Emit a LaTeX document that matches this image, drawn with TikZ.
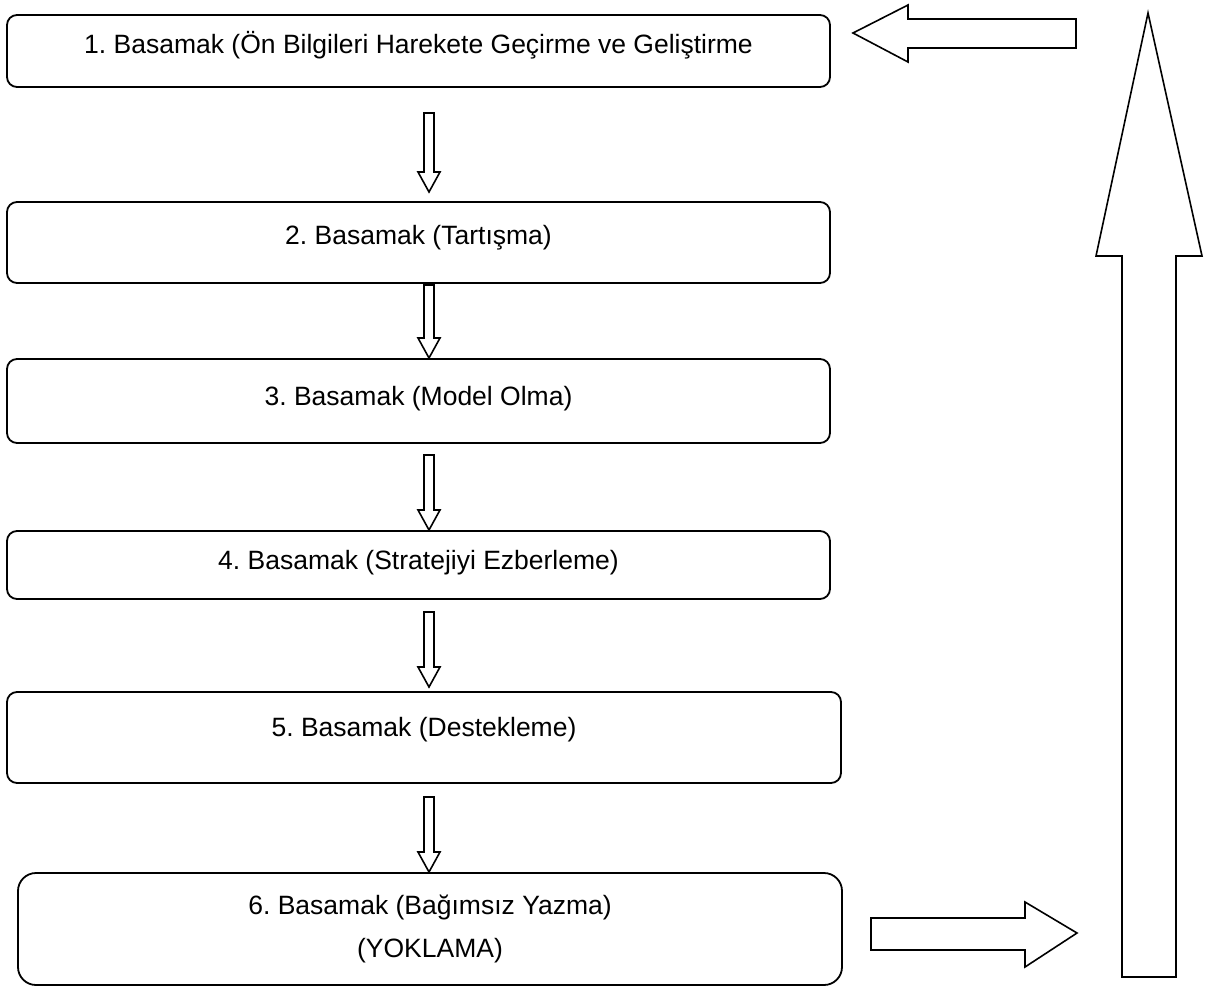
\documentclass[tikz,border=0pt]{standalone}
\usepackage{fontspec}
\setmainfont{Liberation Sans}
\begin{document}
\frenchspacing
\begin{tikzpicture}[x=1pt,y=-1pt,
  stepbox/.style={draw, rounded corners=10pt, inner sep=0pt, line width=1.8pt},
  lbl/.style={font=\fontsize{26.5}{31}\selectfont, inner sep=0pt, anchor=center},
  hollow/.style={draw, line width=1.6pt, fill=white, line join=miter}]
\useasboundingbox (0,0) rectangle (1209,988);
% boxes
\node[stepbox, minimum width=823pt, minimum height=72pt] (b1) at (418.5,51) {};
\node[stepbox, minimum width=823pt, minimum height=81pt] (b2) at (418.5,242.5) {};
\node[stepbox, minimum width=823pt, minimum height=84pt] (b3) at (418.5,401) {};
\node[stepbox, minimum width=823pt, minimum height=68pt] (b4) at (418.5,565) {};
\node[stepbox, minimum width=834pt, minimum height=91pt] (b5) at (424,737.5) {};
\node[stepbox, rounded corners=18pt, minimum width=824pt, minimum height=112pt] (b6) at (430,929) {};
% labels
\node[lbl] (t1) at (418.5,45) {1. Basamak (Ön Bilgileri Harekete Geçirme ve Geliştirme};
\node[lbl] (t2) at (418.5,238) {2. Basamak (Tartışma)};
\node[lbl] (t3) at (418.5,399) {3. Basamak (Model Olma)};
\node[lbl] (t4) at (418.5,563) {4. Basamak (Stratejiyi Ezberleme)};
\node[lbl] (t5) at (424,730) {5. Basamak (Destekleme)};
\node[lbl] (t6) at (430,907) {6. Basamak (Bağımsız Yazma)};
\node[lbl] (t7) at (430,951) {(YOKLAMA)};
% small down arrows between boxes
\newcommand{\dnarrow}[2]{\draw[hollow] (424,#1) -- (434,#1) -- (434,#2-20) -- (440,#2-20) -- (429,#2) -- (418,#2-20) -- (424,#2-20) -- cycle;}
\dnarrow{113}{192}
\dnarrow{285}{358}
\dnarrow{455}{530}
\dnarrow{612}{687}
\dnarrow{797}{872}
% top-left arrow
\draw[hollow] (1076,19) -- (908,19) -- (908,5) -- (853,33) -- (908,62) -- (908,48) -- (1076,48) -- cycle;
% big up arrow
\draw[hollow] (1122,977) -- (1122,256) -- (1096,256) -- (1148,13) -- (1202,256) -- (1176,256) -- (1176,977) -- cycle;
% bottom right arrow
\draw[hollow] (871,918) -- (1025,918) -- (1025,902) -- (1077,933) -- (1025,967) -- (1025,950) -- (871,950) -- cycle;
\end{tikzpicture}
\end{document}
